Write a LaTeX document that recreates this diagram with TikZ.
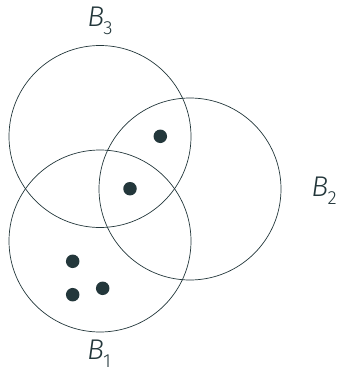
\documentclass[tikz,border=0pt]{standalone}
\usepackage{fontspec}
\setmainfont{Fira Sans Light}
\definecolor{fg}{HTML}{23373B}
\newcommand{\blab}[1]{\textit{B}\kern-0.03em\raisebox{-0.28em}{\fontsize{19}{22}\selectfont #1}}
\begin{document}
\begin{tikzpicture}[x=1pt,y=-1pt,
  ring/.style={draw=fg,line width=0.7pt},
  pt/.style={circle,fill=fg,inner sep=0pt,minimum size=13.5pt},
  lab/.style={text=fg,font=\fontsize{28.5}{32}\selectfont,inner sep=0pt}]
\useasboundingbox (0,0) rectangle (341,370);
\draw[ring] (100,136.5) circle (91);
\draw[ring] (190,189) circle (91);
\draw[ring] (100,241) circle (91);
\node[pt] (d1) at (160.3,136.3) {};
\node[pt] (d2) at (130,188.7) {};
\node[pt] (d3) at (72.7,261.3) {};
\node[pt] (d4) at (72.7,294.7) {};
\node[pt] (d5) at (102.7,288.3) {};
\node[lab] (b3) at (100,21) {\blab{3}};
\node[lab] (b2) at (324,191) {\blab{2}};
\node[lab] (b1) at (99,354) {\blab{1}};
\end{tikzpicture}
\end{document}
